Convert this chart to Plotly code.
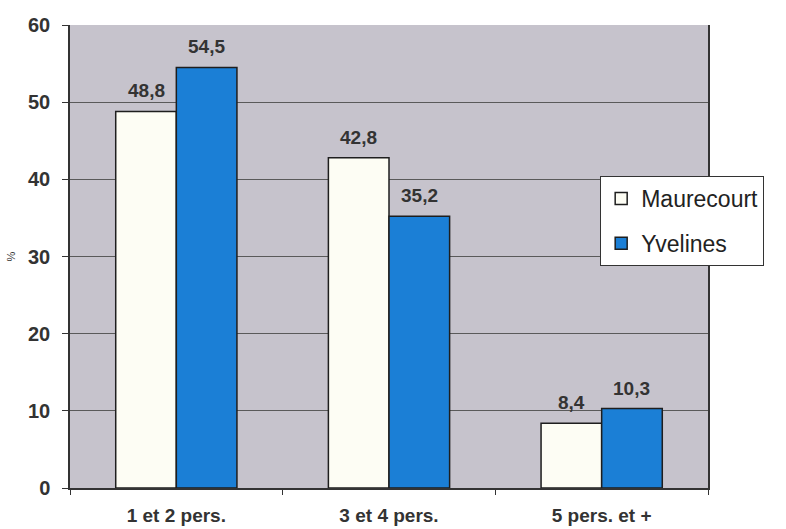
import plotly.graph_objects as go

categories = ["1 et 2 pers.", "3 et 4 pers.", "5 pers. et +"]
maurecourt = [48.8, 42.8, 8.4]
yvelines = [54.5, 35.2, 10.3]
y_ticks = [0, 10, 20, 30, 40, 50, 60]

def fr(v):
    return f"{v:.1f}".replace(".", ",")

font_main = "Arial, Liberation Sans, sans-serif"
label_font = dict(family=font_main, size=19, color="#333333", weight="bold")

BARGAP = 0.43
half = (1 - BARGAP) / 4  # offset of each bar centre from its category centre

fig = go.Figure()
fig.add_trace(go.Bar(
    name="Maurecourt", x=categories, y=maurecourt,
    marker=dict(color="#fdfdf4", line=dict(color="#1e1e1e", width=1.5)),
    legendgroup="a",
))
fig.add_trace(go.Bar(
    name="Yvelines", x=categories, y=yvelines,
    marker=dict(color="#1b7fd6", line=dict(color="#1e1e1e", width=1.5)),
    legendgroup="b",
))

# value labels above each bar
for i, cat in enumerate(categories):
    for vals, sign in ((maurecourt, -1), (yvelines, 1)):
        fig.add_annotation(
            x=i + sign * half, y=vals[i], xref="x", yref="y",
            text=fr(vals[i]), showarrow=False,
            yanchor="bottom", yshift=8, font=label_font,
        )

fig.update_layout(
    width=786, height=529,
    margin=dict(l=70, r=78, t=25, b=41, autoexpand=False),
    paper_bgcolor="white",
    plot_bgcolor="#c6c3cc",
    barmode="group", bargap=BARGAP, bargroupgap=0,
    font=dict(family=font_main, color="#333333"),
    showlegend=True,
    legend=dict(
        x=0.831, y=0.674, xanchor="left", yanchor="top",
        bgcolor="white", bordercolor="#333333", borderwidth=1,
        font=dict(family=font_main, size=23, color="#222222"),
        traceorder="grouped", tracegroupgap=12,
        itemwidth=30,
    ),
    xaxis=dict(
        automargin=False,
        showline=True, linecolor="#333333", linewidth=1.5, mirror=False,
        ticks="outside", tickson="boundaries", ticklen=5, tickcolor="#333333",
        tickfont=dict(family=font_main, size=19, color="#333333", weight="bold"),
        ticklabelstandoff=9,
        showgrid=False,
    ),
    yaxis=dict(
        automargin=False,
        range=[0, 60], tickvals=y_ticks,
        showline=True, linecolor="#333333", linewidth=1.5, mirror=True,
        ticks="outside", ticklen=6, tickcolor="#333333",
        tickfont=dict(family=font_main, size=20, color="#333333", weight="bold"),
        ticklabelstandoff=8,
        showgrid=True, gridcolor="#5a5a5a", gridwidth=1,
        zeroline=False,
        title=dict(text="%", font=dict(family=font_main, size=11, color="#333333"), standoff=10),
    ),
)

fig.write_html("out.html")
